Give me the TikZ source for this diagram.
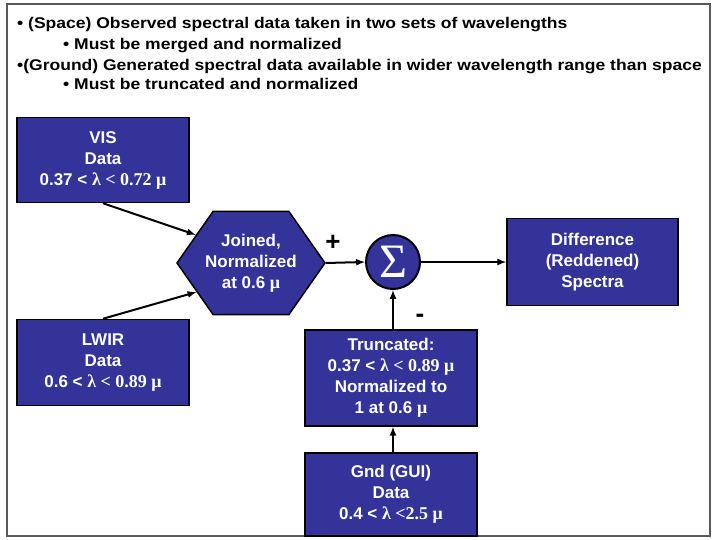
\documentclass[tikz,border=0pt]{standalone}
\usepackage{fontspec}
\setmainfont{Liberation Sans}
\newfontfamily\hdrfont[FakeStretch=1.13]{Liberation Sans}
\newfontfamily\tmsfont{Liberation Serif}
\newcommand{\tms}[1]{{\tmsfont\fontsize{18}{21}\selectfont #1}}
\usepackage{xcolor}
\definecolor{boxblue}{HTML}{333399}
\usetikzlibrary{shapes.symbols}

\begin{document}
\begin{tikzpicture}[x=1pt, y=-1pt,
  box/.style={draw, line width=1.5pt, fill=boxblue, text=white, align=center, inner sep=0pt,
    font=\bfseries\fontsize{17}{21}\selectfont},
  arr/.style={-latex, line width=2pt},
  hdr/.style={anchor=base west, inner sep=0pt, font=\hdrfont\bfseries\fontsize{15.5}{18}\selectfont}]
\useasboundingbox (0,0) rectangle (712,540);
\draw[line width=2pt, black!65] (7,4) rectangle (710,536);

\node[hdr] (h1) at (17,29) {\textbullet\ (Space) Observed spectral data taken in two sets of wavelengths};
\node[hdr] (h2) at (63,50) {\textbullet\ Must be merged and normalized};
\node[hdr] (h3) at (17,71) {\textbullet(Ground) Generated spectral data available in wider wavelength range than space};
\node[hdr] (h4) at (63,90) {\textbullet\ Must be truncated and normalized};

\node[box, minimum width=172pt, minimum height=85pt] (1) at (103,160) {VIS\\Data\\0.37 < \tms{λ < 0.72 μ}};
\node[box, minimum width=172pt, minimum height=86pt] (2) at (103,362.5) {LWIR\\Data\\0.6 < \tms{λ < 0.89 μ}};
\node[box, signal, signal to=west and east, signal pointer angle=110, inner xsep=-8pt,
  minimum width=148pt, minimum height=103pt] (3) at (251,263) {Joined,\\Normalized\\at 0.6 \tms{μ}};
\node[box, circle, line width=2pt, minimum size=54pt, font=\tmsfont\fontsize{48}{48}\selectfont] (4) at (393,262) {Σ};
\node[box, minimum width=171pt, minimum height=87pt] (5) at (592.5,262) {Difference\\(Reddened)\\Spectra};
\node[box, minimum width=172pt, minimum height=96pt] (6) at (391,378) {Truncated:\\0.37 < \tms{λ < 0.89 μ}\\Normalized to\\1 at 0.6 \tms{μ}};
\node[box, minimum width=172pt, minimum height=83pt] (7) at (391,494.5) {Gnd (GUI)\\Data\\0.4 < \tms{λ <2.5 μ}};

\node[font=\bfseries\fontsize{26}{26}\selectfont] (plus) at (333,243) {+};
\node[font=\bfseries\fontsize{26}{26}\selectfont] (minus) at (420,318) {-};

\path[draw, arr] (1.south) -- (3.153);
\path[draw, arr] (2.north) -- (3.208);
\path[draw, arr] (3.east) -- (4.west);
\path[draw, arr] (4.east) -- (5.west);
\path[draw, arr] (6.north -| 4) -- (4.south);
\path[draw, arr] (7.north -| 4) -- (6.south -| 4);
\end{tikzpicture}
\end{document}
